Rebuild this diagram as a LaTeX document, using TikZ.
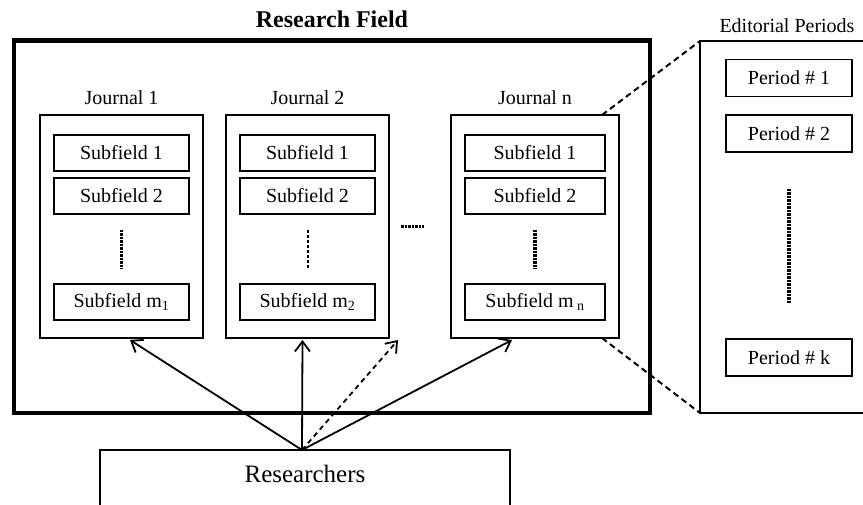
\documentclass[tikz,border=0pt]{standalone}
\usepackage{fontspec}
\setmainfont{Liberation Serif}
\usetikzlibrary{arrows.meta,positioning}

\begin{document}
\begin{tikzpicture}[
    x=1pt, y=-1pt,
    every node/.style={outer sep=0pt, font=\fontsize{20}{24}\selectfont},
    box/.style={draw, line width=1.5pt, inner sep=0pt},
    journal/.style={box, minimum width=163pt, minimum height=223pt},
    subbox/.style={box, minimum width=135pt, minimum height=36pt},
    perbox/.style={box, minimum width=126pt, minimum height=37pt},
    lab/.style={inner sep=0pt},
    dots/.style={line width=3.5pt, dash pattern=on 2.5pt off 1pt},
    arr/.style={line width=1.8pt, -{Straight Barb[length=10pt,width=15pt]}},
    link/.style={line width=2pt, dash pattern=on 6pt off 4pt},
 ]
    \path[use as bounding box, clip] (0,0) rectangle (863,505);

    % research field
    \node[draw, line width=4.5pt, minimum width=636pt, minimum height=372.5pt] at (332,226.75) (F) {};
    \node[lab, font=\fontsize{24}{28}\selectfont\bfseries] at (332,19) (FT) {Research Field};

    % journals
    \node[journal] at (121.5,226.5) (J1) {};
    \node[journal, right=23pt of J1] (J2) {};
    \node[journal, minimum width=168pt] at (535,226.5) (Jn) {};
    \node[lab, above=10pt of J1] (J1T) {Journal 1};
    \node[lab, above=10pt of J2] (J2T) {Journal 2};
    \node[lab, above=10pt of Jn] (JnT) {Journal n};

    \node[subbox, below=20pt of J1.north] (S11) {Subfield 1};
    \node[subbox, below=7pt of S11] (S12) {Subfield 2};
    \node[subbox, above=18pt of J1.south] (S1m) {Subfield m\textsubscript{1}};
    \draw[dots] ([yshift=-16pt]S12.south) -- ([yshift=15pt]S1m.north);

    \node[subbox, below=20pt of J2.north] (S21) {Subfield 1};
    \node[subbox, below=7pt of S21] (S22) {Subfield 2};
    \node[subbox, above=18pt of J2.south] (S2m) {Subfield m\textsubscript{2}};
    \draw[dots, line width=2pt, dash pattern=on 3pt off 2pt] ([yshift=-16pt]S22.south) -- ([yshift=15pt]S2m.north);

    \node[subbox, minimum width=140pt, below=20pt of Jn.north] (Sn1) {Subfield 1};
    \node[subbox, minimum width=140pt, below=7pt of Sn1] (Sn2) {Subfield 2};
    \node[subbox, minimum width=140pt, above=18pt of Jn.south] (Snm) {Subfield m\,\textsubscript{n}};
    \draw[dots] ([yshift=-16pt]Sn2.south) -- ([yshift=15pt]Snm.north);

    \draw[dots, line width=2.5pt] ([xshift=12pt]J2.east) -- ([xshift=-27pt]Jn.west);

    % editorial periods
    \node[box, anchor=north west, minimum width=220pt, minimum height=372pt] at (700,41) (E) {};
    \node[lab] at (787,26) (ET) {Editorial Periods};
    \node[perbox] at (789,78) (P1) {Period \# 1};
    \node[perbox] at (789,133.5) (P2) {Period \# 2};
    \node[perbox] at (789,357.5) (Pk) {Period \# k};
    \draw[dots] ([yshift=-37pt]P2.south) -- ([yshift=36pt]Pk.north);

    \draw[link] ([xshift=67pt]Jn.north) -- (E.north west);
    \draw[link] ([xshift=67pt]Jn.south) -- (E.south west);

    % researchers
    \node[box, anchor=north, minimum width=410pt, minimum height=100pt] at (305,450) (R) {};
    \node[lab, font=\fontsize{25}{30}\selectfont] at (305,474) (RT) {Researchers};
    \coordinate (R0) at ([xshift=-3pt]R.north);
    \coordinate (D) at (398,340);

    \draw[arr] (R0) -- ([xshift=8.5pt, yshift=-2pt]J1.south);
    \draw[arr] (R0) -- ([xshift=-5pt, yshift=-2pt]J2.south);
    \draw[arr, dash pattern=on 5pt off 4pt] (R0) -- (D);
    \draw[arr] (R0) -- ([xshift=-23pt, yshift=-2pt]Jn.south);
\end{tikzpicture}
\end{document}
